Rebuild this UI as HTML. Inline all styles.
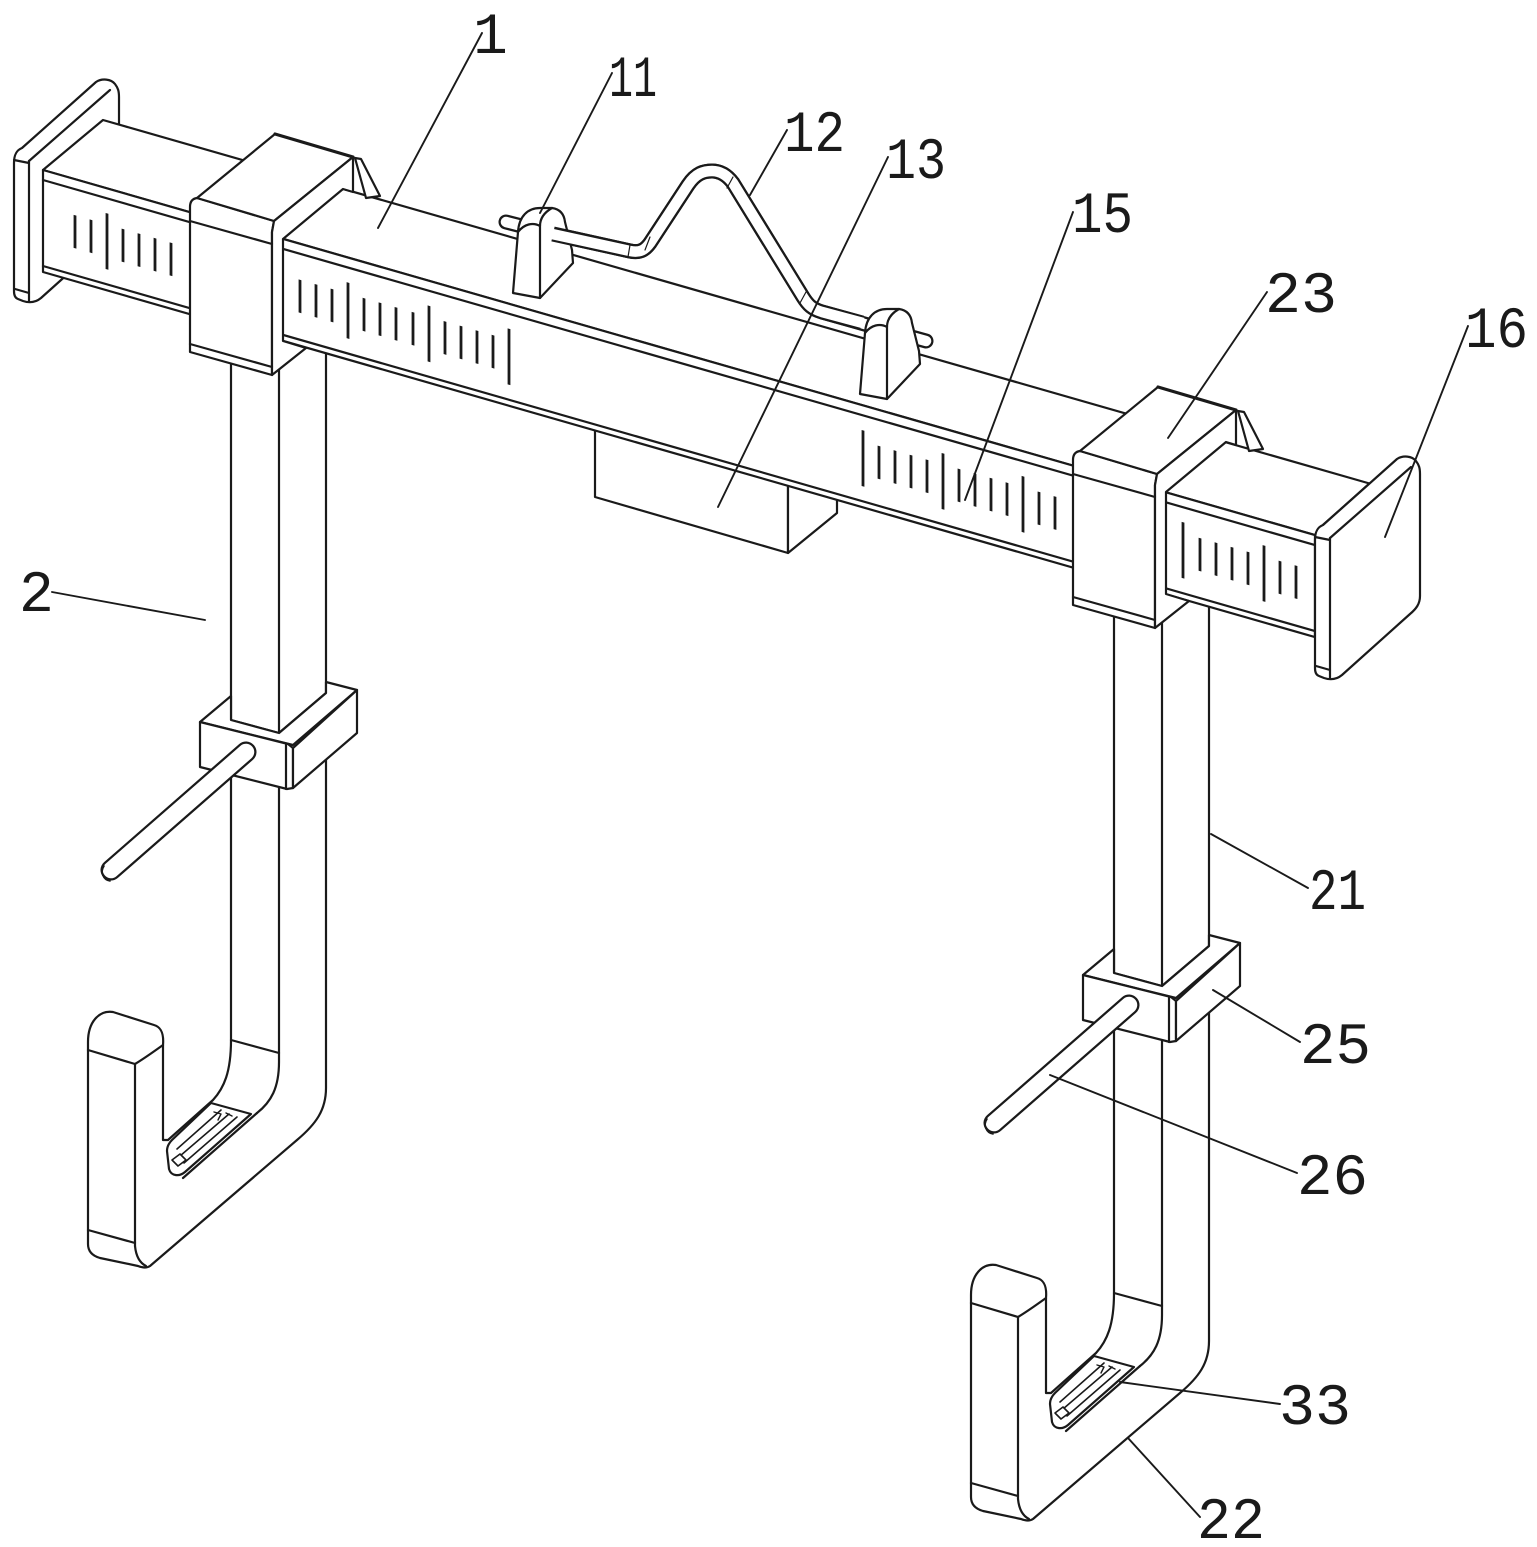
<!DOCTYPE html>
<html>
<head>
<meta charset="utf-8">
<style>
  html,body{margin:0;padding:0;background:#fff;}
  body{width:1537px;height:1547px;overflow:hidden;}
  svg{display:block;}
</style>
</head>
<body>
<svg width="1537" height="1547" viewBox="0 0 1537 1547" xmlns="http://www.w3.org/2000/svg" xmlns:xlink="http://www.w3.org/1999/xlink">
<rect width="1537" height="1547" fill="#fff"/>
<defs>
  <!-- end plate (right plate absolute coords) -->
  <g id="plate">
    <path d="M1315,540 C1315,531 1318,527 1323,525 L1397,459 C1403,455 1412,456 1416,461 C1419,465 1420,468 1420,474 L1420,596 C1420,604 1416,609 1410,614 L1342,675 C1336,680 1330,680 1324,678 L1319,676 C1316,675 1315,672 1315,668 Z"/>
    <path d="M1330,538 L1330,678" fill="none"/>
    <path d="M1330,538 L1411,467" fill="none"/>
    <path d="M1315,537 L1330,540" fill="none"/>
    <path d="M1316,666 L1330,670" fill="none"/>
  </g>
  <!-- sleeve (left, absolute) -->
  <g id="sleeve">
    <path d="M190,352 L190,207 Q190,199 197,198 L274,221 L272,232 L272,375 Z"/>
    <path d="M197,198 L275,134 L353,157 L274,221 Z"/>
    <path d="M275,134 L353,157" fill="none" stroke-width="3.2"/>
    <path d="M272,375 L272,232 L274,221 L353,157 L353,192 L343,189 L283,239 L283,341 L306,348 Z"/>
    <path d="M190,221 L272,244" fill="none"/>
    <path d="M190,344 L272,367" fill="none"/>
    <path d="M355,158 L361,159 L380,196 L366,198 Z"/>
  </g>
  <!-- upper leg -->
  <g id="uleg">
    <path d="M231,300 L279,300 L279,733 L231,720 Z" stroke="none"/>
    <path d="M279,300 L326,300 L326,693 L279,733 Z" stroke="none"/>
    <path d="M231,300 L231,720 L279,733 L326,693 L326,300 M279,300 L279,733" fill="none"/>
  </g>
  <!-- lower part: hook, collar, rod -->
  <g id="lower">
    <path d="M231,755 L231,1040 C231,1072 224,1088 213,1100 L168,1140 L163,1140 L163,1045 C164,1033 161,1027 154,1025 L113,1012 C99,1010 88,1022 88,1042 L88,1244 C88,1252 93,1256 100,1258 L138,1266 C143,1268 147,1268 150,1266 L297,1140 C316,1124 326,1110 326,1088 L326,755 Z"/>
    <path d="M279,755 L279,1062 C279,1088 271,1102 257,1113" fill="none"/>
    <path d="M231,1040 L279,1053" fill="none"/>
    <path d="M257,1113 L183,1178" fill="none"/>
    <path d="M211,1103 L251,1114 L185,1172 C179,1177 171,1176 169,1169 L167,1151 C167,1146 169,1143 172,1140 Z"/>
    <path d="M177,1149 L221,1110 M180,1156 L229,1114 M184,1163 L237,1117" fill="none" stroke-width="1.6"/>
    <path d="M172,1160 l8,-6 l6,6 l-8,6 z" stroke-width="1.6"/>
    <path d="M214,1112 l7,2 l-3,6 M226,1113 l6,3" fill="none" stroke-width="1.4"/>
    <path d="M88,1050 L135,1064" fill="none"/>
    <path d="M135,1064 L135,1246" fill="none"/>
    <path d="M88,1230 L135,1243" fill="none"/>
    <path d="M135,1064 C145,1058 156,1050 163,1045" fill="none"/>
    <path d="M135,1246 C136,1256 140,1263 146,1266" fill="none"/>
    <!-- collar -->
    <path d="M200,722 L231,696 L231,720 L279,733 L326,693 L326,682 L357,690 L293,745 Z"/>
    <path d="M200,722 L288,744 L293,748 L293,788 L287,789 L200,767 Z"/>
    <path d="M293,748 L357,690 L357,733 L293,788 Z"/>
    <path d="M286,745 L286,789" fill="none"/>
    <!-- rod -->
    <path d="M246,752 L111,870" fill="none" stroke-width="21"/>
    <path d="M246,752 L111,870" fill="none" stroke="#fff" stroke-width="16.5"/>
    <path d="M104,866 C100,872 103,880 110,881" fill="none" stroke-width="1.6"/>
  </g>
  <!-- bracket -->
  <g id="br">
    <path d="M513,293 L518,232 C519,216 528,208 540,208 L552,208 C559,209 564,213 565,222 L572,250 L573,263 L540,298 Z"/>
    <path d="M540,298 L540,226 C540,218 545,212 552,208" fill="none"/>
    <path d="M518,232 C524,224 533,222 540,226" fill="none"/>
  </g>
</defs>

<g fill="#fff" stroke="#1a1a1a" stroke-width="2.2" stroke-linejoin="round" stroke-linecap="round">
  <!-- left plate -->
  <use href="#plate" xlink:href="#plate" transform="translate(-1301,-377)"/>

  <!-- block 13 -->
  <path d="M595,420 L595,497 L788,553 L788,476 Z"/>
  <path d="M788,476 L788,553 L837,513 L837,490 Z"/>

  <!-- upper legs -->
  <use href="#uleg" xlink:href="#uleg"/>
  <use href="#uleg" xlink:href="#uleg" transform="translate(883,253)"/>

  <!-- beam -->
  <path d="M43,170 L103,120 L1369.5,483.5 L1323,525 L1315,535.1 Z"/>
  <path d="M43,170 L1315,535.1 L1315,637.1 L43,272 Z"/>
  <path d="M43,180 L1315,545.1 M43,266 L1315,631.1" fill="none"/>

  <!-- scale marks -->
  <g transform="matrix(1,0.287,0,1,0,0)" stroke-width="2.8" stroke-linecap="butt" fill="none">
    <path d="M75,193.7V226.7 M91,193.7V226.7 M123,193.7V226.7 M139,193.7V226.7 M155,193.7V226.7 M171,193.7V226.7
             M300,193.7V226.7 M316,193.7V226.7 M332,193.7V226.7 M364,193.7V226.7 M380,193.7V226.7 M396,193.7V226.7 M413,193.7V226.7 M445,193.7V226.7 M461,193.7V226.7 M477,193.7V226.7 M493,193.7V226.7
             M879,193.7V226.7 M895,193.7V226.7 M911,193.7V226.7 M927,193.7V226.7 M959,193.7V226.7 M975,193.7V226.7 M991,193.7V226.7 M1007,193.7V226.7 M1039,193.7V226.7 M1055,193.7V226.7
             M1200,193.7V226.7 M1216,193.7V226.7 M1232,193.7V226.7 M1248,193.7V226.7 M1280,193.7V226.7 M1296,193.7V226.7"/>
    <path d="M107,182.7V238.7 M348,182.7V238.7 M429,182.7V238.7 M509,182.7V238.7 M863,182.7V238.7 M943,182.7V238.7 M1023,182.7V238.7 M1183,182.7V238.7 M1264,182.7V238.7"/>
  </g>

  <!-- handle 12 -->
  <path d="M506,222 L553,234 L630,251 C640,253 645,250 650,243 L688,185 C696,173 704,171 712,171 C720,171 727,175 733,183 L803,297 C808,305 812,309 822,312 L868,325 L926,341" fill="none" stroke-width="15"/>
  <path d="M506,222 L553,234 L630,251 C640,253 645,250 650,243 L688,185 C696,173 704,171 712,171 C720,171 727,175 733,183 L803,297 C808,305 812,309 822,312 L868,325 L926,341" fill="none" stroke="#fff" stroke-width="10.5"/>

  <!-- brackets 11 -->
  <use href="#br" xlink:href="#br"/>
  <use href="#br" xlink:href="#br" transform="translate(347,101)"/>

  <!-- handle middle redraw -->
  <path d="M553,234 L630,251 C640,253 645,250 650,243 L688,185 C696,173 704,171 712,171 C720,171 727,175 733,183 L803,297 C808,305 812,309 822,312 L862,323" fill="none" stroke-width="15" stroke-linecap="butt"/>
  <path d="M552,234 L630,251 C640,253 645,250 650,243 L688,185 C696,173 704,171 712,171 C720,171 727,175 733,183 L803,297 C808,305 812,309 822,312 L863,323" fill="none" stroke="#fff" stroke-width="10.5" stroke-linecap="butt"/>
  <path d="M630,245 L628,257 M650,237 L645,250 M733,177 L727,188 M806,292 L800,303" fill="none" stroke-width="1.2"/>

  <!-- sleeves -->
  <use href="#sleeve" xlink:href="#sleeve"/>
  <use href="#sleeve" xlink:href="#sleeve" transform="translate(883,253)"/>

  <!-- right plate -->
  <use href="#plate" xlink:href="#plate"/>

  <!-- lower assemblies -->
  <use href="#lower" xlink:href="#lower"/>
  <use href="#lower" xlink:href="#lower" transform="translate(883,253)"/>

  <!-- leaders -->
  <g fill="none" stroke-width="1.9">
    <path d="M482,33 L378,228"/>
    <path d="M612,73 L540,213"/>
    <path d="M787,130 L750,195"/>
    <path d="M888,157 L718,507"/>
    <path d="M1073,212 L965,500"/>
    <path d="M1267,292 L1168,438"/>
    <path d="M1468,326 L1385,537"/>
    <path d="M52,592 L205,620"/>
    <path d="M1308,888 L1211,834"/>
    <path d="M1300,1042 L1213,990"/>
    <path d="M1297,1173 L1050,1075"/>
    <path d="M1280,1404 L1120,1382"/>
    <path d="M1200,1517 L1128,1438"/>
  </g>
</g>

<!-- labels -->
<g font-family="'Liberation Mono', 'DejaVu Sans Mono', monospace" font-size="58" fill="#1a1a1a">
  <text x="473" y="53">1</text>
  <text x="609" y="96" textLength="48" lengthAdjust="spacingAndGlyphs">11</text>
  <text x="784" y="151" textLength="61" lengthAdjust="spacingAndGlyphs">12</text>
  <text x="886" y="178" textLength="60" lengthAdjust="spacingAndGlyphs">13</text>
  <text x="1072" y="232" textLength="61" lengthAdjust="spacingAndGlyphs">15</text>
  <text x="1265" y="312" textLength="72" lengthAdjust="spacingAndGlyphs">23</text>
  <text x="1465" y="347" textLength="63" lengthAdjust="spacingAndGlyphs">16</text>
  <text x="19" y="611">2</text>
  <text x="1309" y="909" textLength="57" lengthAdjust="spacingAndGlyphs">21</text>
  <text x="1300" y="1063" textLength="71" lengthAdjust="spacingAndGlyphs">25</text>
  <text x="1297" y="1194" textLength="71" lengthAdjust="spacingAndGlyphs">26</text>
  <text x="1279" y="1424" textLength="72" lengthAdjust="spacingAndGlyphs">33</text>
  <text x="1197" y="1538" textLength="68" lengthAdjust="spacingAndGlyphs">22</text>
</g>
</svg>
</body>
</html>
